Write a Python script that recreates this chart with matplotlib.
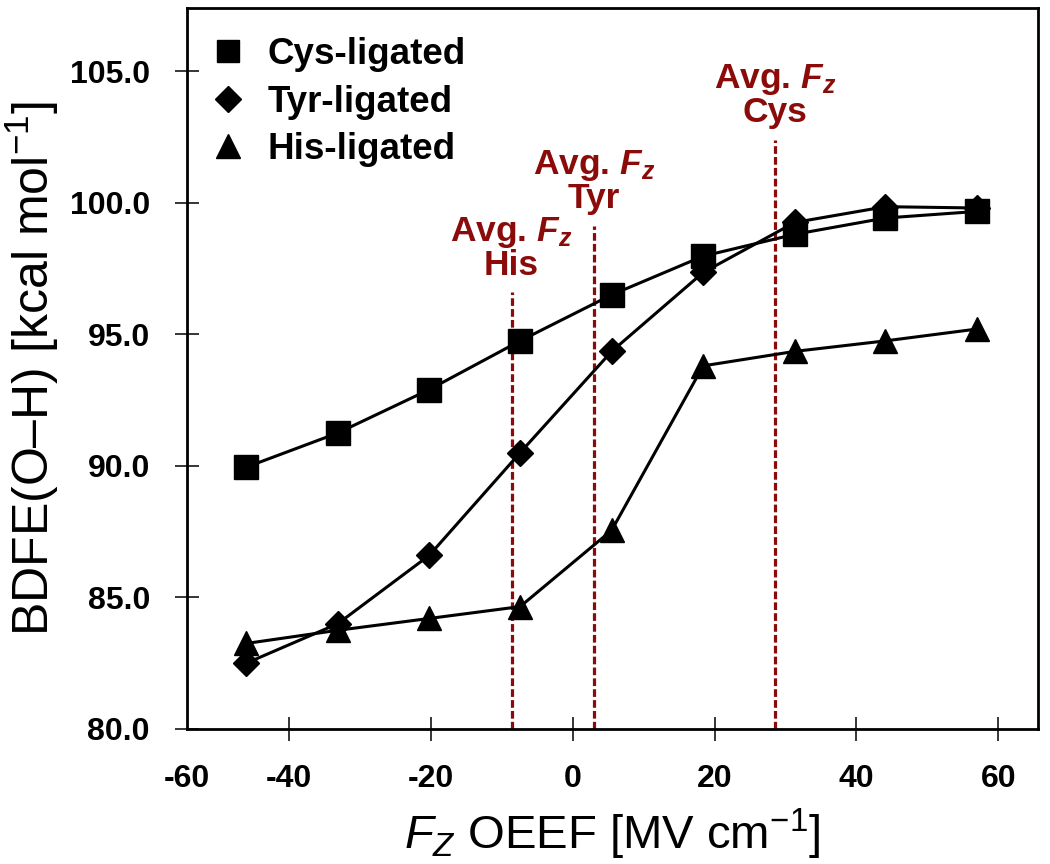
import matplotlib
matplotlib.use("Agg")
import matplotlib.pyplot as plt
from matplotlib.lines import Line2D


# data
fz = [-46.0, -33.1, -20.2, -7.4, 5.5, 18.4, 31.3, 44.1, 57.0]
cys = [89.95, 91.25, 92.9, 94.75, 96.5, 97.97, 98.8, 99.42, 99.67]
tyr = [82.5, 84.0, 86.6, 90.5, 94.35, 97.35, 99.25, 99.85, 99.8]
his = [83.25, 83.75, 84.2, 84.65, 87.55, 93.8, 94.35, 94.75, 95.2]

avg_names = ["His", "Tyr", "Cys"]
avg_fz = [-8.6, 3.0, 28.55]
avg_top = [96.6, 99.13, 102.4]

series_names = ["Cys-ligated", "Tyr-ligated", "His-ligated"]
x_ticks = [-40, -20, 0, 20, 40, 60]
y_ticks = [80, 85, 90, 95, 100, 105]

RED = "#8b0a0a"

plt.rcParams["font.family"] = ["Liberation Sans", "DejaVu Sans"]
plt.rcParams["mathtext.fontset"] = "custom"
plt.rcParams["mathtext.rm"] = "Liberation Sans"
plt.rcParams["mathtext.it"] = "Liberation Sans:italic"
plt.rcParams["mathtext.bf"] = "Liberation Sans:bold"
plt.rcParams["mathtext.bfit"] = "Liberation Sans:italic:bold"

fig = plt.figure(figsize=(10.5, 8.64), dpi=100)
ax = fig.add_axes([0.1778, 0.1563, 0.8108, 0.8344])

xmin, xmax = -54.4, 65.6
ax.set_xlim(xmin, xmax)
ax.set_ylim(80, 107.4)

# average field markers
for name, x, top in zip(avg_names, avg_fz, avg_top):
    ax.plot([x, x], [80, top], color=RED, lw=2.3,
            linestyle=(0, (2.4, 1.0)), zorder=1)
    ax.text(x, top + 0.4, "Avg. $\\mathbfit{F_z}$\n" + name, color=RED,
            fontsize=25.5, fontweight="bold", ha="center", va="bottom",
            multialignment="center", linespacing=0.95)

ax.plot(fz, his, color="k", lw=2.2, marker="^", ms=17, zorder=3)
ax.plot(fz, tyr, color="k", lw=2.2, marker="D", ms=13.5, zorder=4)
ax.plot(fz, cys, color="k", lw=2.2, marker="s", ms=17, zorder=5)

handles = [
    Line2D([], [], color="k", ls="none", marker="s", ms=16),
    Line2D([], [], color="k", ls="none", marker="D", ms=13),
    Line2D([], [], color="k", ls="none", marker="^", ms=17),
]
fig.legend(handles, series_names, loc="upper left",
           bbox_to_anchor=(213 / 1050, 1 - 37 / 864),
           frameon=False, borderpad=0, borderaxespad=0,
           handlelength=0.8, handletextpad=0.68, labelspacing=0.34,
           prop={"size": 26.5, "weight": "bold"})

# ticks
ax.set_xticks([xmin] + x_ticks, ["-60"] + [str(t) for t in x_ticks])
ax.get_xaxis().get_major_ticks()[0].tick1line.set_visible(False)
ax.set_yticks(y_ticks, ["%.1f" % t for t in y_ticks])
ax.tick_params(direction="inout", length=17, width=1.1, labelsize=23)
ax.tick_params(axis="x", pad=17)
ax.tick_params(axis="y", pad=18)
for lab in ax.get_xticklabels() + ax.get_yticklabels():
    lab.set_fontweight("bold")

for sp in ax.spines.values():
    sp.set_linewidth(2)

ax.set_xlabel("$\\mathit{F}_Z$ OEEF [MV cm$^{-1}$]", fontsize=34)
ax.xaxis.set_label_coords(0.5, -0.108)
ax.set_ylabel("BDFE(O\u2013H) [kcal mol$^{-1}$]", fontsize=36)
ax.yaxis.set_label_coords(-0.148, 0.5)

fig.savefig("out.png", dpi=100)
